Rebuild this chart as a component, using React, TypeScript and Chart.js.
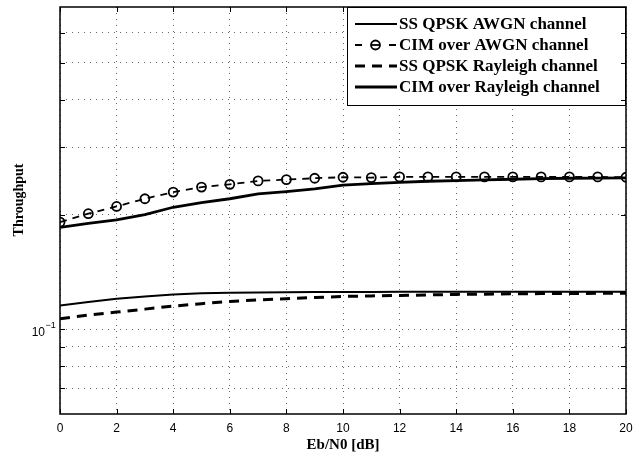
import React, { useEffect, useRef } from "react";
import { Chart, registerables } from "chart.js";

Chart.register(...registerables);

const ebn0 = [0, 1, 2, 3, 4, 5, 6, 7, 8, 9, 10, 11, 12, 13, 14, 15, 16, 17, 18, 19, 20];
const ssQpskAwgn = [0.1155, 0.118, 0.1203, 0.122, 0.1235, 0.1243, 0.1247, 0.125, 0.1252, 0.1253, 0.1254, 0.1254, 0.1255, 0.1255, 0.1255, 0.1255, 0.1255, 0.1255, 0.1255, 0.1255, 0.1255];
const cimAwgn = [0.191, 0.201, 0.21, 0.22, 0.229, 0.236, 0.24, 0.245, 0.247, 0.249, 0.2505, 0.25, 0.251, 0.251, 0.251, 0.251, 0.251, 0.251, 0.251, 0.251, 0.2505];
const ssQpskRayleigh = [0.1066, 0.109, 0.111, 0.113, 0.1151, 0.1168, 0.1184, 0.1195, 0.1203, 0.1212, 0.122, 0.1224, 0.1227, 0.1231, 0.1235, 0.1237, 0.124, 0.1241, 0.1242, 0.1243, 0.1244];
const cimRayleigh = [0.185, 0.1897, 0.1937, 0.2, 0.209, 0.215, 0.22, 0.2265, 0.2297, 0.2335, 0.239, 0.241, 0.243, 0.2445, 0.2455, 0.2465, 0.2475, 0.2483, 0.249, 0.2493, 0.2495];

const seriesLabels = ["SS QPSK AWGN channel", "CIM over AWGN channel", "SS QPSK Rayleigh channel", "CIM over Rayleigh channel"];
const xTicks = [0, 2, 4, 6, 8, 10, 12, 14, 16, 18, 20];
const yTicks = [0.07, 0.08, 0.09, 0.1, 0.2, 0.3, 0.4, 0.5, 0.6];
const yLabelTick = 0.1;
const yTitle = "Throughput";
const xTitle = "Eb/N0 [dB]";

const toPoints = (arr: number[]) => ebn0.map((x, i) => ({ x, y: arr[i] }));

const legendPlugin = {
  id: "matlabLegend",
  afterDatasetsDraw(chart: any) {
    const { ctx, chartArea } = chart;
    const bx = 347;
    const by = chartArea.top;
    const bw = chartArea.right - bx;
    const bh = 99;
    ctx.save();
    ctx.fillStyle = "#fff";
    ctx.fillRect(bx, by, bw, bh);
    ctx.strokeStyle = "#000";
    ctx.lineWidth = 1;
    ctx.strokeRect(bx + 0.5, by + 0.5, bw - 1, bh - 1);
    chart.data.datasets.forEach((ds: any, i: number) => {
      const cy = by + 17 + i * 21;
      const hasMarker = ds.pointRadius > 0;
      ctx.beginPath();
      ctx.strokeStyle = "#000";
      ctx.lineWidth = ds.borderWidth;
      ctx.setLineDash(hasMarker && ds.borderDash ? [7, 27] : ds.borderDash || []);
      ctx.moveTo(355, cy);
      ctx.lineTo(397, cy);
      ctx.stroke();
      ctx.setLineDash([]);
      if (hasMarker) {
        ctx.beginPath();
        ctx.lineWidth = ds.pointBorderWidth;
        ctx.arc(375.5, cy, ds.pointRadius, 0, Math.PI * 2);
        ctx.stroke();
        ctx.beginPath();
        ctx.lineWidth = ds.borderWidth;
        ctx.moveTo(371, cy);
        ctx.lineTo(380, cy);
        ctx.stroke();
      }
      ctx.fillStyle = "#000";
      ctx.font = "bold 17px 'Liberation Serif'";
      ctx.textBaseline = "middle";
      ctx.textAlign = "left";
      ctx.fillText(ds.label, 399, cy + 1);
    });
    ctx.restore();
  },
};

const framePlugin = {
  id: "matlabFrame",
  afterDraw(chart: any) {
    const { ctx, chartArea } = chart;
    const { left, right, top, bottom } = chartArea;
    const xs = chart.scales.x;
    const ys = chart.scales.y;
    ctx.save();
    ctx.strokeStyle = "#000";
    ctx.lineWidth = 1;
    ctx.beginPath();
    xTicks.forEach((t) => {
      const px = Math.round(xs.getPixelForValue(t)) + 0.5;
      ctx.moveTo(px, bottom);
      ctx.lineTo(px, bottom - 5);
      if (px < 347) {
        ctx.moveTo(px, top);
        ctx.lineTo(px, top + 5);
      }
    });
    yTicks.forEach((t) => {
      const py = Math.round(ys.getPixelForValue(t)) + 0.5;
      ctx.moveTo(left, py);
      ctx.lineTo(left + 5, py);
      ctx.moveTo(right, py);
      ctx.lineTo(right - 5, py);
    });
    ctx.stroke();
    ctx.lineWidth = 1.5;
    ctx.strokeRect(left, top, right - left, bottom - top);
    const py = ys.getPixelForValue(yLabelTick);
    ctx.fillStyle = "#000";
    ctx.textAlign = "right";
    ctx.textBaseline = "alphabetic";
    ctx.font = "12px 'Liberation Sans'";
    ctx.fillText("10", 45, py + 7);
    ctx.textAlign = "left";
    ctx.font = "9px 'Liberation Sans'";
    ctx.fillText("\u22121", 45.5, py - 1);
    // y axis title
    ctx.save();
    ctx.translate(23, 200);
    ctx.rotate(-Math.PI / 2);
    ctx.textAlign = "center";
    ctx.font = "bold 14px 'Liberation Serif'";
    ctx.fillText(yTitle, 0, 0);
    ctx.restore();
    ctx.restore();
  },
};

export default function App() {
  const ref = useRef<HTMLCanvasElement | null>(null);
  useEffect(() => {
    document.body.style.margin = "0";
    const canvas = ref.current;
    if (!canvas) return;
    const chart = new Chart(canvas, {
      type: "line",
      data: {
        datasets: [
          {
            label: seriesLabels[0],
            data: toPoints(ssQpskAwgn),
            borderColor: "#000",
            borderWidth: 2,
            pointRadius: 0,
            fill: false,
          },
          {
            label: seriesLabels[1],
            data: toPoints(cimAwgn),
            borderColor: "#000",
            borderWidth: 1.8,
            borderDash: [7, 6],
            pointRadius: 4.5,
            pointBorderWidth: 1.8,
            pointBorderColor: "#000",
            pointBackgroundColor: "rgba(0,0,0,0)",
            fill: false,
          },
          {
            label: seriesLabels[2],
            data: toPoints(ssQpskRayleigh),
            borderColor: "#000",
            borderWidth: 3,
            borderDash: [10, 7],
            pointRadius: 0,
            fill: false,
          },
          {
            label: seriesLabels[3],
            data: toPoints(cimRayleigh),
            borderColor: "#000",
            borderWidth: 2.8,
            pointRadius: 0,
            fill: false,
          },
        ] as any,
      },
      options: {
        animation: false,
        responsive: false,
        devicePixelRatio: 1,
        layout: { padding: { top: 7, right: 8, left: 0, bottom: 0 } },
        plugins: { legend: { display: false }, tooltip: { enabled: false } },
        scales: {
          x: {
            type: "linear",
            min: 0,
            max: 20,
            afterBuildTicks: (scale: any) => {
              scale.ticks = xTicks.map((v) => ({ value: v }));
            },
            afterFit: (scale: any) => {
              scale.height = 44;
              scale.paddingLeft = 0;
              scale.paddingRight = 0;
            },
            ticks: {
              color: "#000",
              font: { family: "'Liberation Sans'", size: 12 },
              padding: 7,
              maxRotation: 0,
            },
            grid: {
              drawTicks: false,
              color: "rgba(0,0,0,0.6)",
              lineWidth: 1,
            },
            border: { display: false, dash: [1, 5] },
            title: {
              display: true,
              text: xTitle,
              color: "#000",
              font: { family: "'Liberation Serif'", size: 15, weight: "bold" },
              padding: { top: 0, bottom: 4 },
            },
          },
          y: {
            type: "logarithmic",
            min: 0.06,
            max: 0.7,
            afterBuildTicks: (scale: any) => {
              scale.ticks = yTicks.map((v) => ({ value: v }));
            },
            afterFit: (scale: any) => {
              scale.width = 60;
              scale.paddingTop = 0;
              scale.paddingBottom = 0;
            },
            ticks: {
              callback: () => "",
              font: { family: "'Liberation Sans'", size: 12 },
            },
            grid: {
              drawTicks: false,
              color: "rgba(0,0,0,0.6)",
              lineWidth: 1,
            },
            border: { display: false, dash: [1, 5] },
            title: { display: false },
          },
        },
      } as any,
      plugins: [legendPlugin, framePlugin],
    });
    return () => chart.destroy();
  }, []);
  return <canvas ref={ref} width={634} height={458} style={{ display: "block" }} />;
}
